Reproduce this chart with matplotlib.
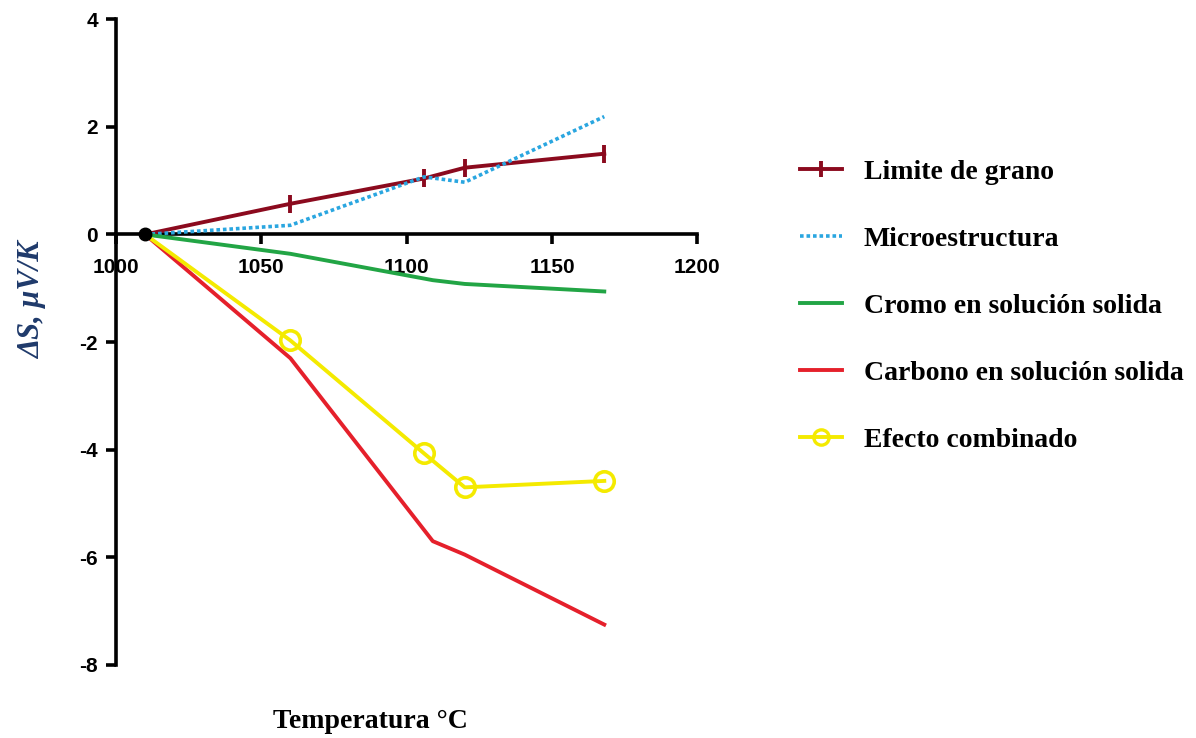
import numpy as np
import matplotlib.pyplot as plt

plt.rcParams['axes.unicode_minus'] = False

# temperaturas (°C) y variacion del coeficiente Seebeck (uV/K)
start_x = [1010]
start_y = [0]

temp_grano = [1010, 1060, 1106, 1120, 1168]
s_grano = [0, 0.57, 1.04, 1.24, 1.50]

temp_micro = [1010, 1060, 1106, 1120, 1168]
s_micro = [0, 0.17, 1.07, 0.97, 2.19]

temp_cromo = [1010, 1060, 1109, 1120, 1168]
s_cromo = [0, -0.36, -0.85, -0.92, -1.06]

temp_carbono = [1010, 1060, 1109, 1120, 1168]
s_carbono = [0, -2.30, -5.70, -5.95, -7.25]

temp_comb = [1010, 1060, 1106, 1120, 1168]
s_comb = [0, -1.97, -4.07, -4.70, -4.58]

labels = ['Limite de grano', 'Microestructura', 'Cromo en solución solida',
          'Carbono en solución solida', 'Efecto combinado']

c_grano = '#8b0a1e'
c_micro = '#2aa6e0'
c_cromo = '#22a545'
c_carb = '#e5202b'
c_comb = '#f4ea00'

fig = plt.figure(figsize=(11.96, 7.38), dpi=100)
ax = fig.add_axes([0.097, 0.099, 0.486, 0.875])

ax.plot(temp_grano, s_grano, color=c_grano, lw=2.8, zorder=3)
ax.plot(temp_grano[1:], s_grano[1:], ls='none', marker='|', ms=13, mew=2.8,
        color=c_grano, zorder=3)
ax.plot(temp_micro, s_micro, color=c_micro, lw=2.6, ls=(0, (1, 0.8)), zorder=3)
ax.plot(temp_cromo, s_cromo, color=c_cromo, lw=2.8, zorder=3)
ax.plot(temp_carbono, s_carbono, color=c_carb, lw=2.8, zorder=3)
ax.plot(temp_comb, s_comb, color=c_comb, lw=2.8, zorder=3)
ax.plot(temp_comb[1:], s_comb[1:], ls='none', marker='o', ms=14, mew=2.6,
        mfc='none', mec=c_comb, zorder=3)
ax.plot(start_x, start_y, 'o', color='black', ms=9, zorder=4)

ax.set_xlim(1000, 1200)
ax.set_ylim(-8, 4)
ax.spines['top'].set_visible(False)
ax.spines['right'].set_visible(False)
ax.spines['bottom'].set_position(('data', 0))
ax.spines['left'].set_linewidth(2.6)
ax.spines['bottom'].set_linewidth(2.6)
ax.set_xticks(np.arange(1000, 1201, 50))
ax.set_yticks(np.arange(-8, 5, 2))
ax.tick_params(axis='both', length=7, width=2.6, direction='out', labelsize=15)
ax.tick_params(axis='x', pad=10)
ax.tick_params(axis='y', pad=6)
for lab in ax.get_xticklabels() + ax.get_yticklabels():
    lab.set_fontfamily('Liberation Sans')
    lab.set_fontweight('bold')
for lab in ax.get_xticklabels():
    lab.set_bbox(dict(facecolor='white', edgecolor='none', pad=1.5))

fig.text(0.027, 0.593, 'ΔS, μV/K', rotation=90, ha='center', va='center',
         fontsize=22, fontstyle='italic', fontweight='bold',
         family='Liberation Serif', color='#1f3a6b')
fig.text(0.31, 0.022, 'Temperatura °C', ha='center', va='center',
         fontsize=20, fontweight='bold', family='Liberation Serif')

handles = [plt.Line2D([], [], color=c_grano, lw=2.8, marker='|', ms=12, mew=2.8),
           plt.Line2D([], [], color=c_micro, lw=2.6, ls=(0, (1, 0.8))),
           plt.Line2D([], [], color=c_cromo, lw=2.8),
           plt.Line2D([], [], color=c_carb, lw=2.8),
           plt.Line2D([], [], color=c_comb, lw=2.8, marker='o', ms=11,
                      mew=2.4, mfc='none')]
fig.legend(handles, labels, loc='upper left', bbox_to_anchor=(0.648, 0.818),
           frameon=False, handlelength=1.5, handletextpad=0.8,
           labelspacing=1.5,
           prop={'family': 'Liberation Serif', 'weight': 'bold', 'size': 20})

fig.savefig('out.png', dpi=100)
